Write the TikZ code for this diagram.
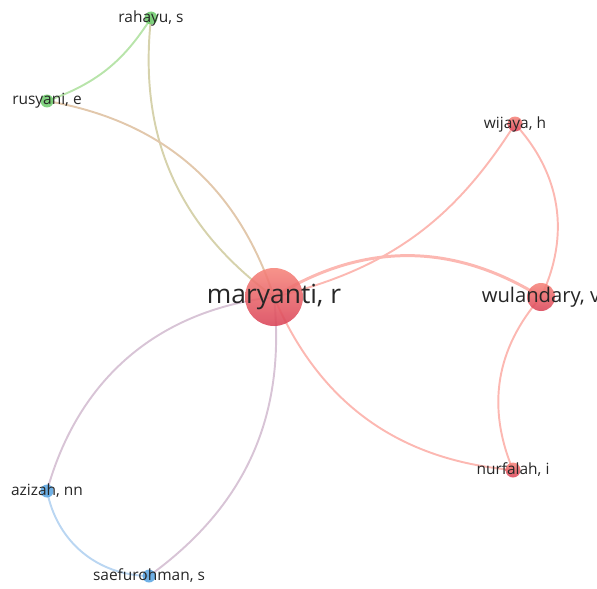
\documentclass[tikz,border=0pt]{standalone}
\usepackage{fontspec}
\setmainfont{Open Sans}
\usetikzlibrary{backgrounds}

\definecolor{redlink}{RGB}{252,184,178}
\definecolor{greenlink}{RGB}{184,228,170}
\definecolor{bluelink}{RGB}{186,214,242}
\definecolor{mixlink}{RGB}{214,210,172}
\definecolor{tanlink}{RGB}{226,200,172}
\definecolor{purplink}{RGB}{216,196,214}
\definecolor{labgrey}{RGB}{38,38,38}

\begin{document}
\begin{tikzpicture}[x=0.02cm,y=-0.02cm,
    author/.style={circle,inner sep=0pt,draw=none,fill opacity=0.88},
    redau/.style={author,top color={rgb,255:red,246;green,132;blue,122},bottom color={rgb,255:red,218;green,68;blue,88}},
    greenau/.style={author,fill={rgb,255:red,112;green,204;blue,110}},
    blueau/.style={author,fill={rgb,255:red,92;green,166;blue,226}},
    lab/.style={text=labgrey,font=\fontsize{8.8}{10}\selectfont,inner sep=0pt},
    link/.style={line width=1.1pt,line cap=round}]
    \useasboundingbox (0,0) rectangle (597,588);

    \node [redau,minimum size=1.16cm] (mar) at (274,297) {};
    \node [redau,minimum size=0.56cm] (wul) at (541,297) {};
    \node [redau,minimum size=0.3cm] (wij) at (515,124) {};
    \node [redau,minimum size=0.3cm] (nur) at (513,470) {};
    \node [greenau,minimum size=0.26cm] (rah) at (151,18) {};
    \node [greenau,minimum size=0.26cm] (rus) at (47,101) {};
    \node [blueau,minimum size=0.26cm] (azi) at (47,491) {};
    \node [blueau,minimum size=0.26cm] (sae) at (149,576) {};

    \begin{pgfonlayer}{background}
    \draw [link,redlink,line width=1.7pt] (mar.center) to[bend left=32] (wul.center);
    \draw [link,redlink] (mar.center) to[bend right=22] (wij.center);
    \draw [link,redlink] (mar.center) to[bend right=31] (nur.center);
    \draw [link,redlink] (wij.center) to[bend left=34] (wul.center);
    \draw [link,redlink] (wul.center) to[bend right=32] (nur.center);
    \draw [link,mixlink] (mar.center) to[bend left=30] (rah.center);
    \draw [link,tanlink] (mar.center) to[bend right=31] (rus.center);
    \draw [link,greenlink] (rus.center) to[bend right=19] (rah.center);
    \draw [link,purplink] (mar.center) to[bend right=34] (azi.center);
    \draw [link,purplink] (mar.center) to[bend left=30] (sae.center);
    \draw [link,bluelink] (azi.center) to[bend right=39] (sae.center);
    \end{pgfonlayer}

    \node [lab,font=\fontsize{15}{17}\selectfont] (marL) at (mar) {maryanti, r};
    \node [lab,font=\fontsize{11.5}{13}\selectfont] (wulL) at (wul) {wulandary, v};
    \node [lab] (wijL) at (wij) {wijaya, h};
    \node [lab] (nurL) at (nur) {nurfalah, i};
    \node [lab] (rahL) at (rah) {rahayu, s};
    \node [lab] (rusL) at (rus) {rusyani, e};
    \node [lab] (aziL) at (azi) {azizah, nn};
    \node [lab] (saeL) at (sae) {saefurohman, s};
  \end{tikzpicture}
\end{document}
